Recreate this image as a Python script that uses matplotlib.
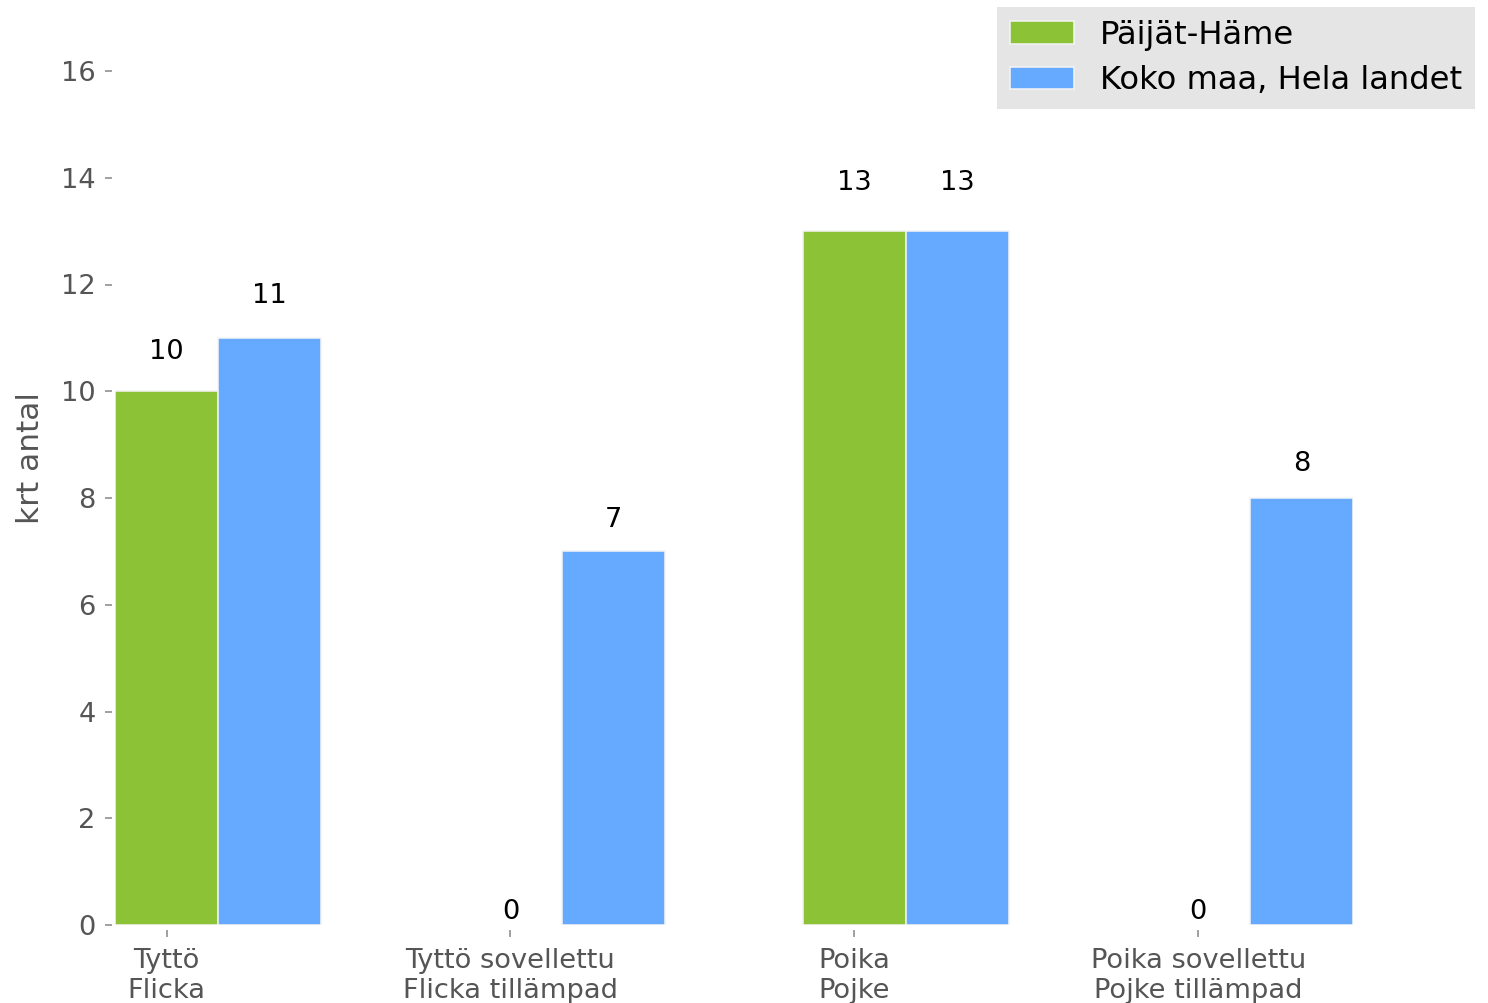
import matplotlib
matplotlib.use("Agg")
import matplotlib.pyplot as plt
import numpy as np

categories = ["Tyttö\nFlicka", "Tyttö sovellettu\nFlicka tillämpad",
              "Poika\nPojke", "Poika sovellettu\nPojke tillämpad"]
series_names = ["Päijät-Häme", "Koko maa, Hela landet"]
paijat_hame = [10, 0, 13, 0]
koko_maa = [11, 7, 13, 8]
colors = ["#8bc236", "#66aaff"]
yticks = [0, 2, 4, 6, 8, 10, 12, 14, 16]

DPI = 140
W, H = 1488, 1003
fig = plt.figure(figsize=(W / DPI, H / DPI), dpi=DPI)

# axes placement in pixels
left_px, right_px = 115, 1353
bottom_px = 925
ytop = 17.5
px_per_unit = (925 - 71) / 16.0
top_px = bottom_px - ytop * px_per_unit
ax = fig.add_axes([left_px / W, 1 - bottom_px / H,
                   (right_px - left_px) / W, (bottom_px - top_px) / H])

width = 0.3
x = np.arange(len(categories))
series = [paijat_hame, koko_maa]
for k, (vals, name, col) in enumerate(zip(series, series_names, colors)):
    bars = ax.bar(x + k * width, vals, width, color=col, edgecolor="#f4f4f4",
                  linewidth=0.8, label=name)
    for rect, v in zip(bars, vals):
        if v == 0:
            rect.set_linewidth(0)
        ax.text(rect.get_x() + rect.get_width() / 2, 1.05 * v, f"{v}",
                ha="center", va="bottom", fontsize=14, color="black")

ax.set_xlim(-0.15, 3.45)
ax.set_ylim(0, ytop)
ax.set_xticks(x)
ax.set_xticklabels(categories, linespacing=1.05)
ax.set_yticks(yticks)
ax.set_yticklabels([str(t) for t in yticks])
ax.set_ylabel("krt antal", fontsize=16, color="#555555", labelpad=8)

for s in ax.spines.values():
    s.set_visible(False)
ax.spines["left"].set_position(("outward", 1.5))
ax.spines["bottom"].set_position(("outward", 2.5))
ax.tick_params(axis="both", direction="out", length=3.5, width=0.8,
               color="#888888", labelsize=14, labelcolor="#555555")
ax.tick_params(axis="y", pad=5)
ax.tick_params(axis="x", pad=6)

leg = fig.legend(loc="upper right", bbox_to_anchor=(1475 / W, 1 - 7 / H),
                 fontsize=16.6, frameon=True, facecolor="#e5e5e5",
                 edgecolor="none", fancybox=False, borderaxespad=0,
                 handlelength=2.0, handleheight=0.7, labelspacing=0.45)
leg.get_frame().set_alpha(1)

fig.savefig("out.png", dpi=DPI)
